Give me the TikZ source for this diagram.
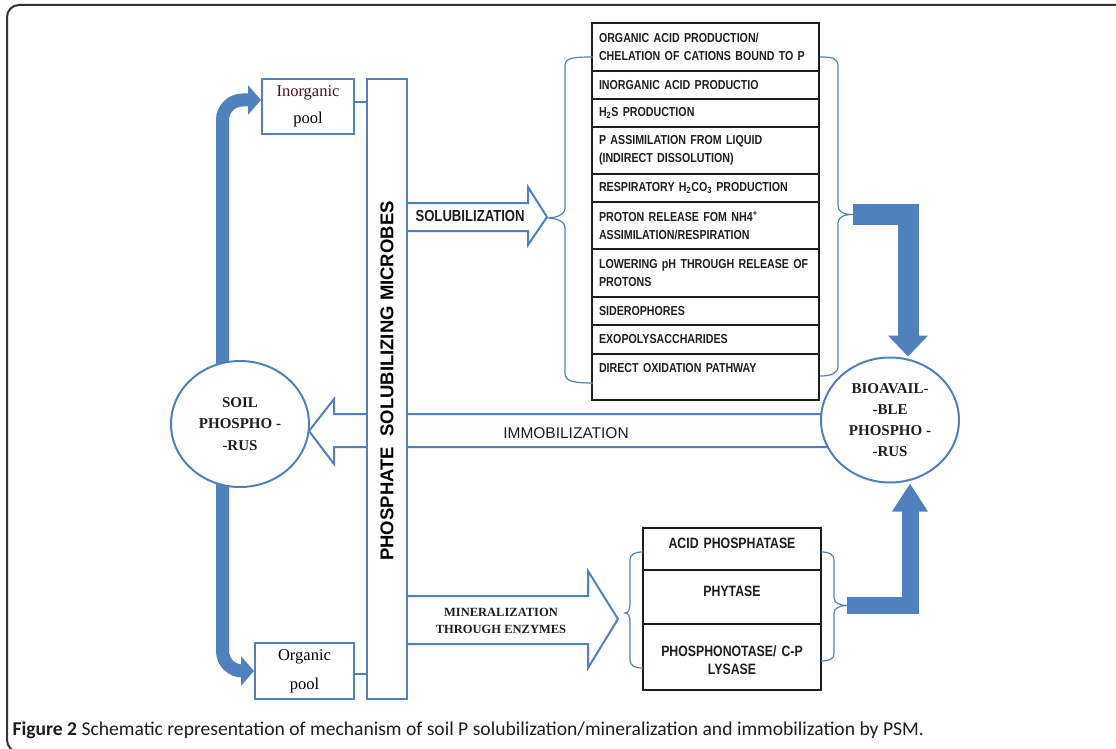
\documentclass[tikz,border=0pt]{standalone}
\usepackage{fontspec}
\setmainfont{Liberation Serif}
\setsansfont{Liberation Sans}
\newfontfamily\narrowsf[FakeStretch=0.82]{Liberation Sans}
\newfontfamily\captionfont{Carlito}
\usetikzlibrary{positioning,arrows.meta,shapes.geometric,backgrounds}

\definecolor{psblue}{RGB}{79,129,189}
\definecolor{poolink}{RGB}{75,20,25}
\definecolor{ink}{RGB}{30,30,30}

\tikzset{
  blueline/.style={draw=psblue, line width=2pt},
  poolbox/.style={blueline, fill=white, rectangle, minimum width=92pt, minimum height=55pt, align=center, font=\fontsize{16.5}{27}\selectfont},
  psmbox/.style={blueline, fill=white, rectangle, minimum width=40pt, minimum height=620pt, inner sep=0pt, font=\sffamily\bfseries\fontsize{18.5}{20}\selectfont},
  oval/.style={ellipse, blueline, fill=white, minimum width=138pt, minimum height=125pt, inner sep=0pt, align=center, text=ink, font=\bfseries\fontsize{15}{21.5}\selectfont},
  solrow/.style={draw=ink, line width=1.3pt, outer sep=0pt, minimum width=227pt, text width=213pt, inner xsep=7pt, inner ysep=0pt, align=left, text=ink, font=\narrowsf\bfseries\fontsize{13}{18}\selectfont},
  enzrow/.style={draw=ink, line width=1.3pt, outer sep=0pt, minimum width=178pt, text width=164pt, inner xsep=7pt, inner ysep=0pt, align=center, text depth=12pt, text=ink, font=\narrowsf\bfseries\fontsize{15}{18}\selectfont},
  blockarrow/.style={blueline, fill=white, line join=miter},
  brace/.style={draw=psblue, line width=1.2pt},
  bigarrow/.style={draw=psblue, line width=21pt, -{Triangle[width=39pt,length=21pt]}},
  bentarrow/.style={draw=psblue, line width=13pt, rounded corners=20pt, -{Triangle[width=29pt,length=13pt]}}
}

\begin{document}
\begin{tikzpicture}[x=1pt, y=-1pt]
  \useasboundingbox (0,0) rectangle (1116,749);
  \clip (0,0) rectangle (1116,749);
  \draw[line width=2pt, black!80, rounded corners=12pt] (1130,5) -- (7,5) -- (7,752) -- (1130,752);

  % pools, microbes and the two P forms
  \node[poolbox] (inorg) at (308,106.5) {\color{poolink}Inorganic\\pool};
  \node[poolbox, minimum width=99pt, minimum height=56pt, font=\fontsize{16.5}{29}\selectfont] (orgpool) at (304.5,671) {Organic\\pool};
  \node[psmbox] (psm) at (387,389) {\rotatebox{90}{\hspace*{16pt}PHOSPHATE\ \ SOLUBILIZING MICROBES}};
  \node[oval, minimum height=126pt] (soil) at (240,424) {SOIL\\PHOSPHO -\\-RUS};
  \node[oval, font=\bfseries\fontsize{15}{21}\selectfont] (bio) at (890,420) {BIOAVAIL-\\-BLE\\PHOSPHO -\\-RUS};

  % solubilization mechanisms
  \node[solrow, minimum height=48pt, anchor=north] (orgacid) at (705.5,23) {ORGANIC ACID PRODUCTION/\\CHELATION OF CATIONS BOUND TO P};
  \node[solrow, minimum height=28pt, below=0pt of orgacid] (inacid) {INORGANIC ACID PRODUCTIO};
  \node[solrow, minimum height=28pt, below=0pt of inacid] (htwos) {H\textsubscript{2}S PRODUCTION};
  \node[solrow, minimum height=47pt, below=0pt of htwos] (passim) {P ASSIMILATION FROM LIQUID\\(INDIRECT DISSOLUTION)};
  \node[solrow, minimum height=28pt, below=0pt of passim] (resp) {RESPIRATORY H\textsubscript{2}CO\textsubscript{3} PRODUCTION};
  \node[solrow, minimum height=47pt, below=0pt of resp] (proton) {PROTON RELEASE FOM NH4\textsuperscript{+}\\ASSIMILATION/RESPIRATION};
  \node[solrow, minimum height=48pt, below=0pt of proton] (lowph) {LOWERING pH THROUGH RELEASE OF\\PROTONS};
  \node[solrow, minimum height=28pt, below=0pt of lowph] (sidero) {SIDEROPHORES};
  \node[solrow, minimum height=29pt, below=0pt of sidero] (exopoly) {EXOPOLYSACCHARIDES};
  \node[solrow, minimum height=46pt, below=0pt of exopoly] (directox) {DIRECT OXIDATION PATHWAY\\\mbox{}};

  % enzymes
  \node[enzrow, minimum height=42pt, anchor=north] (acidp) at (732,528) {ACID PHOSPHATASE};
  \node[enzrow, minimum height=54pt, below=0pt of acidp] (phytase) {PHYTASE};
  \node[enzrow, minimum height=66pt, below=0pt of phytase] (lyase) {PHOSPHONOTASE/ C-P\\LYSASE};

  % brace tips
  \coordinate (soltip) at (546,218);
  \coordinate (solout) at (853,214.5);
  \coordinate (mintip) at (625,613);
  \coordinate (minout) at (847,605.5);

  \draw[brace] (593,57) .. controls (572,57) and (565,58) .. (565,66) -- (565,208) .. controls (565,215) and (556,218) .. (soltip) .. controls (556,218) and (565,221) .. (565,228) -- (565,373) .. controls (565,381) and (572,383) .. (593,383);
  \draw[brace] (820,57) .. controls (832,57) and (838,58) .. (838,66) -- (838,206) .. controls (838,212) and (844,214.5) .. (solout) .. controls (844,214.5) and (838,217) .. (838,223) -- (838,366) .. controls (838,373) and (832,376) .. (820,376);
  \draw[brace] (643,552) .. controls (635,552) and (630,554) .. (630,560) -- (630,604) .. controls (630,610) and (628,613) .. (mintip) .. controls (628,613) and (630,616) .. (630,622) -- (630,660) .. controls (630,666) and (635,668) .. (643,668);
  \draw[brace] (821,552) .. controls (829,552) and (834,554) .. (834,560) -- (834,598) .. controls (834,603) and (840,605.5) .. (minout) .. controls (840,605.5) and (834,608) .. (834,613) -- (834,654) .. controls (834,659) and (829,661) .. (821,661);

  % block arrows
  \draw[blockarrow] (psm.east |- 0,203) -- (528,203) -- (528,187) -- (547,217) -- (528,245) -- (528,231) -- (psm.east |- 0,231);
  \node[anchor=west, text=ink, font=\narrowsf\bfseries\fontsize{16}{18}\selectfont] (soltext) at (412,216) {SOLUBILIZATION};
  \draw[blockarrow] (psm.east |- 0,596) -- (588,596) -- (588,571) -- (618,619) -- (588,668) -- (588,644) -- (psm.east |- 0,644);
  \node[align=center, text=ink, font=\bfseries\fontsize{12.5}{17}\selectfont] (mintext) at (501,621) {MINERALIZATION\\THROUGH ENZYMES};
  \node[text=ink, font=\sffamily\fontsize{15.5}{18}\selectfont] (immtext) at (566,433) {IMMOBILIZATION};

  \draw[bigarrow] (solout) -| ([xshift=18pt]bio.north);
  \draw[bigarrow, line width=17pt, -{Triangle[width=34pt,length=28pt]}] (minout) -| ([xshift=20pt]bio.south);

  \begin{scope}[on background layer]
    \draw[bentarrow] ([xshift=-17.5pt]soil.center) |- ([yshift=6.5pt]inorg.west);
    \draw[bentarrow] ([xshift=-17.5pt]soil.center) |- (orgpool.west);
    \draw[blockarrow] (850,414) -- (334,414) -- (334,399) -- (309,431) -- (334,464) -- (334,447) -- (850,447) -- cycle;
    \draw[blueline] ([yshift=4pt]inorg.east) -- ([yshift=4pt]inorg.east -| psm.west);
    \draw[blueline] ([yshift=-3pt]orgpool.east) -- ([yshift=-3pt]orgpool.east -| psm.west);
  \end{scope}

  \node[anchor=base west, text=ink, font=\captionfont\fontsize{19.6}{22}\selectfont] (caption) at (9,735) {\textbf{Figure 2} Schematic representation of mechanism of soil P solubilization/mineralization and immobilization by PSM.};
\end{tikzpicture}
\end{document}
